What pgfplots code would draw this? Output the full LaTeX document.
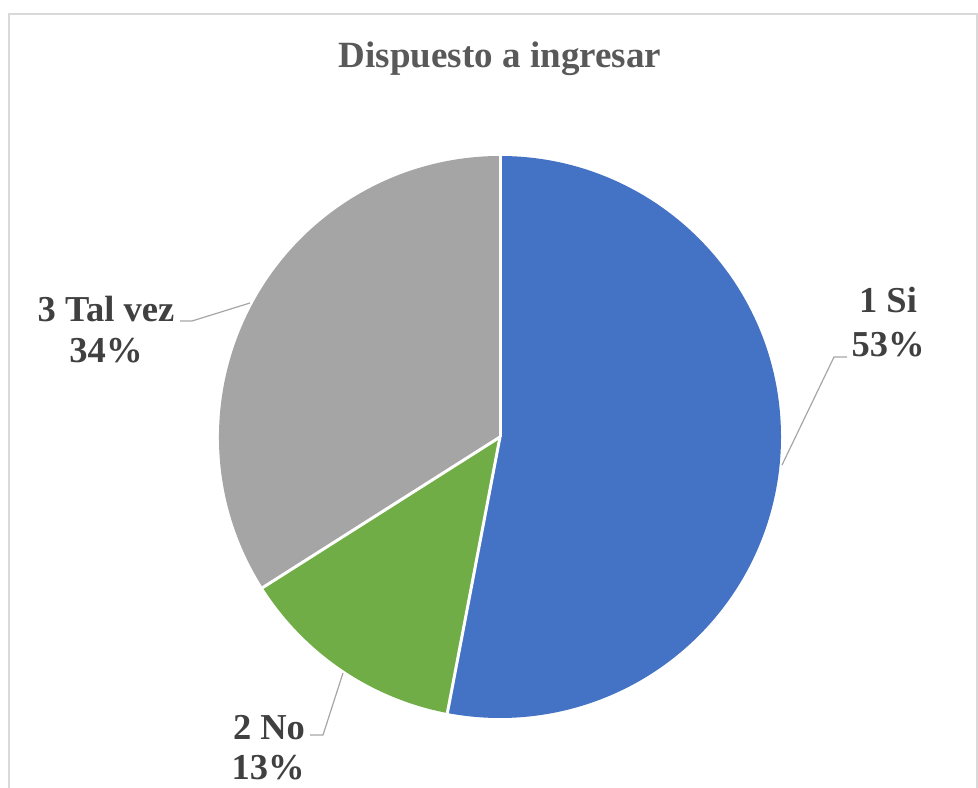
\documentclass[border=0pt]{standalone}
\usepackage{fontspec}
\setmainfont{LiberationSerif}[Extension=.ttf, UprightFont=*-Regular, BoldFont=*-Bold]
\usepackage{pgfplots}
\usepackage{pgfplotstable}
\pgfplotsset{compat=1.18}

\definecolor{siblue}{HTML}{4472C4}
\definecolor{nogreen}{HTML}{70AD47}
\definecolor{tvgray}{HTML}{A5A5A5}
\definecolor{leader}{HTML}{A6A6A6}
\definecolor{frame}{HTML}{D9D9D9}
\definecolor{titlegray}{HTML}{595959}
\definecolor{labelgray}{HTML}{404040}

% shares in percent
\pgfplotstableread{
id pct
1 53
2 13
3 34
}\piedata

\pgfplotstablegetelem{0}{pct}\of\piedata \edef\pA{\pgfplotsretval}
\pgfplotstablegetelem{1}{pct}\of\piedata \edef\pB{\pgfplotsretval}
\pgfplotstablegetelem{2}{pct}\of\piedata \edef\pC{\pgfplotsretval}
\pgfmathsetmacro\angA{90-3.6*\pA}
\pgfmathsetmacro\angB{\angA-3.6*\pB}
\pgfmathsetmacro\angC{\angB-3.6*\pC}

\begin{document}
\begin{tikzpicture}
\begin{axis}[
    x=0.5bp, y=0.5bp,
    xmin=0, xmax=978, ymin=0, ymax=788,
    hide axis,
    clip=true,
]
% whole canvas, so the page is exactly the chart area
\path (axis cs:0,0) rectangle (axis cs:978,788);
% chart frame
\draw[frame, line width=1bp] (axis cs:9,0) -- (axis cs:9,774) -- (axis cs:977,774) -- (axis cs:977,0);

% title
\node[anchor=base, font=\bfseries\fontsize{18.5bp}{22bp}\selectfont, text=titlegray, inner sep=0pt]
    at (axis cs:500,720) {Dispuesto a ingresar};

% slices
\fill[siblue] (axis cs:500,351) -- ++(90:140.5bp) arc[start angle=90, end angle=\angA, radius=140.5bp] -- cycle;
\fill[nogreen] (axis cs:500,351) -- ++(\angA:140.5bp) arc[start angle=\angA, end angle=\angB, radius=140.5bp] -- cycle;
\fill[tvgray] (axis cs:500,351) -- ++(\angB:140.5bp) arc[start angle=\angB, end angle=\angC, radius=140.5bp] -- cycle;
\draw[white, line width=1.5bp] (axis cs:500,351) -- ++(90:141bp);
\draw[white, line width=1.5bp] (axis cs:500,351) -- ++(\angA:141bp);
\draw[white, line width=1.5bp] (axis cs:500,351) -- ++(\angB:141bp);

% leader lines
\draw[leader, line width=0.6bp] (axis cs:847,431) -- (axis cs:834,431) -- (axis cs:782,323);
\draw[leader, line width=0.6bp] (axis cs:180,467) -- (axis cs:192,467) -- (axis cs:250,485);
\draw[leader, line width=0.6bp] (axis cs:310,53) -- (axis cs:323,53) -- (axis cs:343,115);

% data labels
\tikzset{lbl/.style={anchor=base, inner sep=0pt, text=labelgray, font=\bfseries\fontsize{18.25bp}{22bp}\selectfont}}
\node[lbl] at (axis cs:888,475) {1 Si};
\node[lbl] at (axis cs:888,431) {\pA\%};
\node[lbl] at (axis cs:106,466) {3 Tal vez};
\node[lbl] at (axis cs:106,425) {\pC\%};
\node[lbl] at (axis cs:269,48) {2 No};
\node[lbl] at (axis cs:268,8) {\pB\%};
\end{axis}
\end{tikzpicture}
\end{document}
